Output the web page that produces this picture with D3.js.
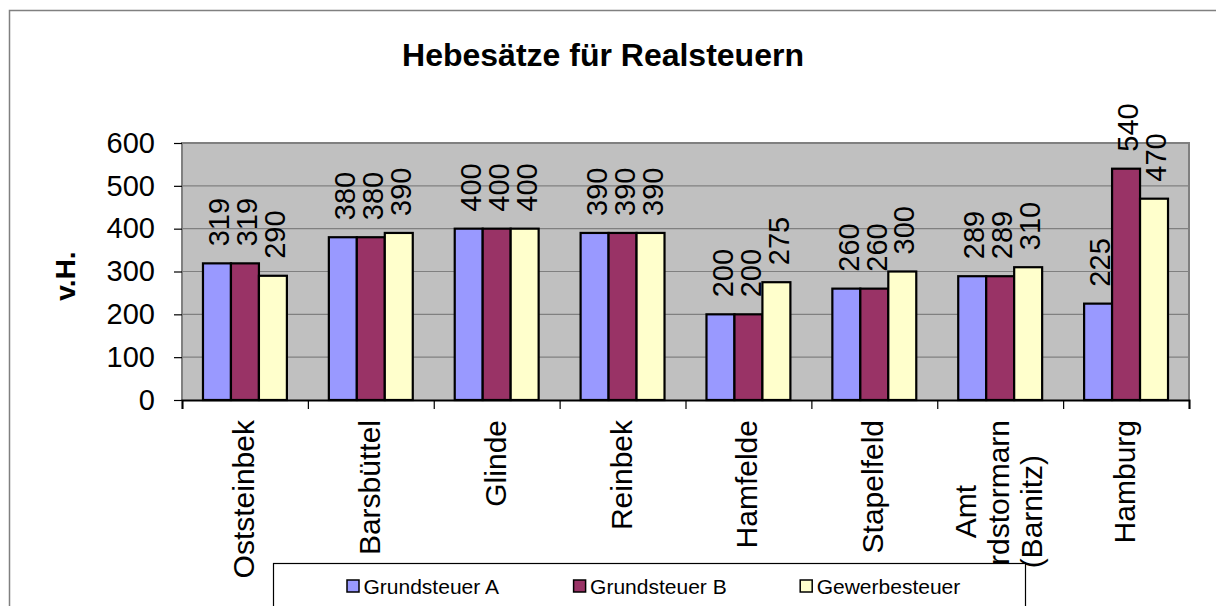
<!DOCTYPE html>
<html>
<head>
<meta charset="utf-8">
<script src="https://cdn.jsdelivr.net/npm/d3@7"></script>
<style>
  body { margin: 0; background: #fff; }
  svg { display: block; font-family: "Liberation Sans", Arial, sans-serif; }
</style>
</head>
<body>
<svg id="chart" width="1216" height="606"></svg>
<script>
// Daten
const categories = ["Oststeinbek", "Barsbüttel", "Glinde", "Reinbek", "Hamfelde", "Stapelfeld", "Amt Nordstormarn (Barnitz)", "Hamburg"];
const seriesNames = ["Grundsteuer A", "Grundsteuer B", "Gewerbesteuer"];
const grundsteuerA = [319, 380, 400, 390, 200, 260, 289, 225];
const grundsteuerB = [319, 380, 400, 390, 200, 260, 289, 540];
const gewerbesteuer = [290, 390, 400, 390, 275, 300, 310, 470];
const yTicks = [0, 100, 200, 300, 400, 500, 600];

const seriesValues = [grundsteuerA, grundsteuerB, gewerbesteuer];
const colors = ["#9999FF", "#993366", "#FFFFCC"];

const svg = d3.select("#chart");
const plot = { left: 182, right: 1189, top: 143, bottom: 400 };

// Rahmen
svg.append("rect")
    .attr("x", 9.5).attr("y", 10.5)
    .attr("width", 1400).attr("height", 800)
    .attr("fill", "none")
    .attr("stroke", "#808080")
    .attr("stroke-width", 1.5);

// Skalen
const x0 = d3.scaleBand().domain(categories).range([plot.left, plot.right]);
const x1 = d3.scaleBand().domain(seriesNames).range([0, x0.bandwidth()]).paddingOuter(0.75);
const y = d3.scaleLinear().domain([0, 600]).range([plot.bottom, plot.top]);
const xTickScale = d3.scaleLinear().domain([0, categories.length]).range([plot.left, plot.right]);

// Hintergrund
svg.append("rect")
    .attr("x", plot.left).attr("y", plot.top)
    .attr("width", plot.right - plot.left).attr("height", plot.bottom - plot.top)
    .attr("fill", "#C0C0C0");

// Gitterlinien
svg.append("g")
    .selectAll("line")
    .data(yTicks.filter(d => d > 0 && d < 600))
    .enter()
    .append("line")
    .attr("x1", plot.left).attr("x2", plot.right)
    .attr("y1", d => y(d)).attr("y2", d => y(d))
    .attr("stroke", "#808080")
    .attr("stroke-width", 1.2);

// Rahmen Plotbereich
svg.append("path")
    .attr("d", `M${plot.left},${plot.bottom}V${plot.top}H${plot.right}V${plot.bottom}`)
    .attr("fill", "none")
    .attr("stroke", "#808080")
    .attr("stroke-width", 2);

// Balken
const groups = svg.append("g")
    .selectAll("g")
    .data(categories)
    .enter()
    .append("g")
    .attr("transform", d => `translate(${x0(d)},0)`);

groups.selectAll("rect")
    .data((d, i) => seriesNames.map((s, j) => ({ series: s, j: j, value: seriesValues[j][i] })))
    .enter()
    .append("rect")
    .attr("x", d => x1(d.series))
    .attr("y", d => y(d.value))
    .attr("width", x1.bandwidth())
    .attr("height", d => y(0) - y(d.value))
    .attr("fill", d => colors[d.j])
    .attr("stroke", "#000")
    .attr("stroke-width", 2.2);

// Datenbeschriftungen
groups.selectAll("text")
    .data((d, i) => seriesNames.map((s, j) => ({ series: s, j: j, value: seriesValues[j][i] })))
    .enter()
    .append("text")
    .attr("transform", d => `translate(${x1(d.series) + x1.bandwidth() / 2},${y(d.value) - 17}) rotate(-90)`)
    .attr("dy", "0.42em")
    .attr("text-anchor", "start")
    .style("font-size", "29px")
    .attr("fill", "#000")
    .text(d => d.value);

// Y-Achse
const yAxis = svg.append("g")
    .attr("transform", `translate(${plot.left},0)`)
    .call(d3.axisLeft(y).tickValues(yTicks).tickSize(8).tickPadding(19));
yAxis.select(".domain").remove();
yAxis.selectAll(".tick line").attr("stroke", "#000").attr("stroke-width", 1.2);
yAxis.selectAll("text")
    .style("font-size", "29px")
    .style("font-family", "\"Liberation Sans\", Arial, sans-serif")
    .attr("fill", "#000");

// X-Achse
const xAxis = svg.append("g")
    .attr("transform", `translate(0,${plot.bottom})`)
    .call(d3.axisBottom(xTickScale).ticks(categories.length).tickFormat("").tickSize(9));
xAxis.select(".domain").attr("stroke", "#000").attr("stroke-width", 2);
xAxis.selectAll(".tick line").attr("stroke", "#000").attr("stroke-width", 1.2);

// Kategoriebeschriftungen (gedreht, mit Umbruch)
const maxLabelLen = 150;
const labelTop = 420;
const lineStep = 33;
const catG = svg.append("g");
categories.forEach(cat => {
    const cx = x0(cat) + x0.bandwidth() / 2;
    const measure = catG.append("text").style("font-size", "30px");
    const words = cat.split(" ");
    const lines = [];
    let current = "";
    words.forEach(w => {
        const test = current ? current + " " + w : w;
        measure.text(test);
        if (current && measure.node().getComputedTextLength() > maxLabelLen) {
            lines.push(current);
            current = w;
        } else {
            current = test;
        }
    });
    lines.push(current);
    const lengths = lines.map(l => { measure.text(l); return measure.node().getComputedTextLength(); });
    measure.remove();
    const centerY = labelTop + d3.max(lengths) / 2;
    lines.forEach((l, i) => {
        const bx = cx + 9 + (i - (lines.length - 1) / 2) * lineStep;
        catG.append("text")
            .attr("transform", `translate(${bx},${centerY}) rotate(-90)`)
            .attr("text-anchor", "middle")
            .style("font-size", "30px")
            .attr("fill", "#000")
            .text(l);
    });
});

// Y-Achsentitel
svg.append("text")
    .attr("transform", "translate(75,276) rotate(-90)")
    .attr("text-anchor", "middle")
    .style("font-size", "28px")
    .style("font-weight", "bold")
    .text("v.H.");

// Titel
svg.append("text")
    .attr("x", 603)
    .attr("y", 66)
    .attr("text-anchor", "middle")
    .style("font-size", "32px")
    .style("font-weight", "bold")
    .text("Hebesätze für Realsteuern");

// Legende
const legend = svg.append("g");
legend.append("rect")
    .attr("x", 273.5).attr("y", 563.5)
    .attr("width", 752).attr("height", 100)
    .attr("fill", "#fff")
    .attr("stroke", "#000")
    .attr("stroke-width", 1.2);

seriesNames.forEach((s, i) => {
    const lx = 347 + i * 226.6;
    legend.append("rect")
        .attr("x", lx).attr("y", 580)
        .attr("width", 12).attr("height", 12)
        .attr("fill", colors[i])
        .attr("stroke", "#000")
        .attr("stroke-width", 1.5);
    legend.append("text")
        .attr("x", lx + 16.5)
        .attr("y", 594)
        .style("font-size", "21px")
        .text(s);
});
</script>
</body>
</html>
